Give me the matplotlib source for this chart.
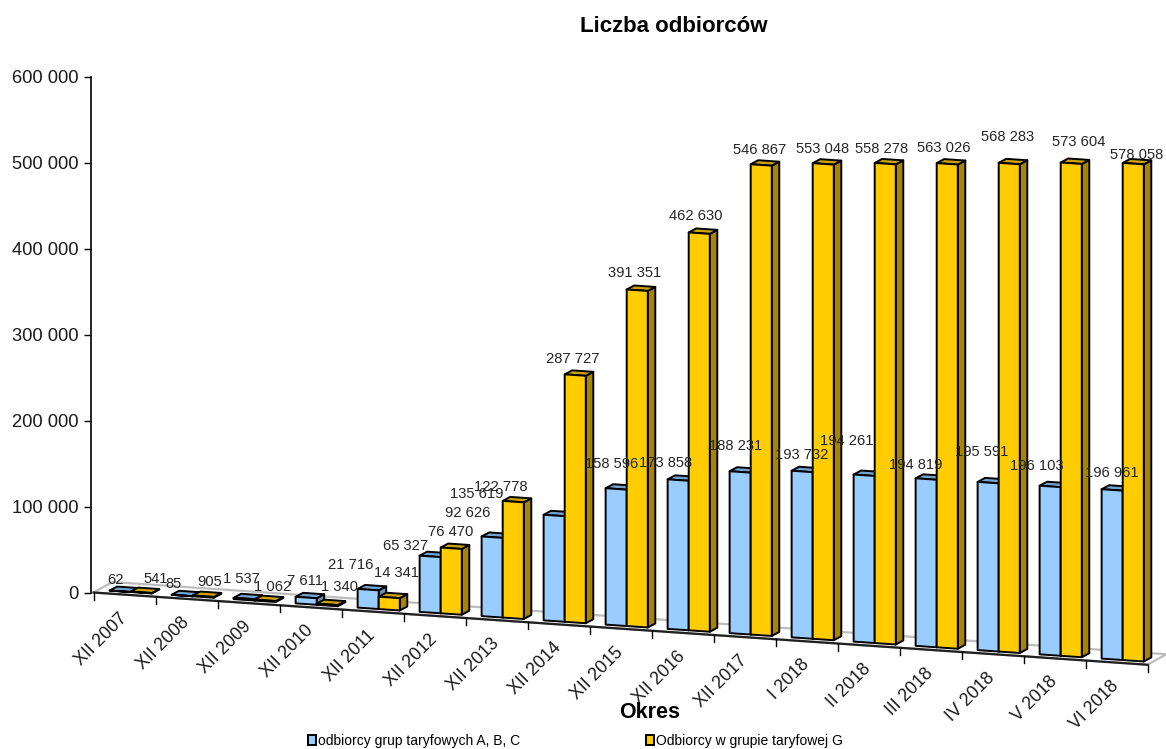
# Liczba odbiorcow - pseudo 3D column chart drawn on a sheared floor
import matplotlib
matplotlib.use('Agg')
import matplotlib.pyplot as plt
from matplotlib.patches import Patch, Polygon

plt.rcParams['font.family'] = ['Liberation Sans', 'DejaVu Sans']

categories = ['XII 2007', 'XII 2008', 'XII 2009', 'XII 2010', 'XII 2011', 'XII 2012',
              'XII 2013', 'XII 2014', 'XII 2015', 'XII 2016', 'XII 2017', 'I 2018',
              'II 2018', 'III 2018', 'IV 2018', 'V 2018', 'VI 2018']
abc_values = [62, 85, 1537, 7611, 21716, 65327, 92626, 122778, 158596, 173858,
              188231, 193732, 194261, 194819, 195591, 196103, 196961]
g_values = [541, 905, 1062, 1340, 14341, 76470, 135619, 287727, 391351, 462630,
            546867, 553048, 558278, 563026, 568283, 573604, 578058]
y_ticks = [0, 100000, 200000, 300000, 400000, 500000, 600000]

# label nudges in pixels, from the bar's top-front centre (dx, dy up)
abc_nudge = [(-5, 14), (-9, 15), (-3, 23), (-1, 20), (-17, 28), (-25, 13), (-24, 27), (-53, 31),
             (-5, 28), (-13, 20), (-5, 29), (0, 19), (-17, 37), (-10, 17), (-6, 34), (-13, 23), (0, 20)]
g_nudge = [(14, 16), (6, 17), (7, 16), (12, 20), (7, 27), (-1, 19), (-37, 11), (-2, 19),
           (-3, 20), (-3, 20), (-2, 18), (-1, 18), (-4, 18), (-3, 19), (-2, 30), (7, 24), (3, 12)]

# pixel geometry of the reference
W, H = 1166, 749
X0, CAT_W = 93.5, 62.0
Y0, PX_PER_UNIT = 592.5, 0.00086
FLOOR_DROP = 4.25           # px the front edge falls per category
DEPTH_X, DEPTH_Y = 7.5, 4.0  # bar depth
FLOOR_X, FLOOR_Y = 19.0, 10.5  # floor depth

dx_px = 1.0 / CAT_W
dy_px = 1.0 / PX_PER_UNIT


def floor_y(pos):
    """Value-axis height of the floor front edge at a category position."""
    return -FLOOR_DROP * pos * dy_px


def draw_bar(ax, left, right, value, face, side, top):
    base_l = floor_y(left) + 3.0 * dy_px
    base_r = floor_y(right) + 3.0 * dy_px
    h = value
    dx, dy = DEPTH_X * dx_px, DEPTH_Y * dy_px
    lw = 1.4
    ax.add_patch(Polygon([(right, base_r), (right + dx, base_r + dy), (right + dx, base_r + h + dy),
                          (right, base_r + h)], fc=side, ec='black', lw=lw, joinstyle='round'))
    ax.add_patch(Polygon([(left, base_l + h), (left + dx, base_l + h + dy),
                          (right + dx, base_r + h + dy), (right, base_r + h)],
                         fc=top, ec='black', lw=lw, joinstyle='round'))
    ax.add_patch(Polygon([(left, base_l), (right, base_r), (right, base_r + h), (left, base_l + h)],
                         fc=face, ec='black', lw=lw, joinstyle='round'))


def main():
    fig = plt.figure(figsize=(W / 100, H / 100), dpi=100)
    ax = fig.add_axes([0, 0, 1, 1])
    ax.set_xlim(-X0 * dx_px, (W - X0) * dx_px)
    ax.set_ylim(-(H - Y0) * dy_px, Y0 * dy_px)
    ax.patch.set_alpha(0)

    n = len(categories)

    # floor
    fx, fy = FLOOR_X * dx_px, FLOOR_Y * dy_px
    ax.add_patch(Polygon([(0, floor_y(0)), (n, floor_y(n)), (n + fx, floor_y(n) + fy), (fx, floor_y(0) + fy)],
                         fc='white', ec='#bdbdbd', lw=1.6, zorder=1))
    ax.plot([0, n], [floor_y(0), floor_y(n)], color='#202020', lw=1.6, zorder=1.5)
    for i in range(n + 1):
        ax.plot([i, i], [floor_y(i), floor_y(i) - 7 * dy_px], color='black', lw=1.0, zorder=1.5)

    # columns
    for i in range(n):
        draw_bar(ax, i + 0.26, i + 0.60, abc_values[i], '#99ccff', '#6d91b6', '#74a2cf')
        draw_bar(ax, i + 0.60, i + 0.94, g_values[i], '#ffcc00', '#a68500', '#c9a100')

    # data labels
    for i in range(n):
        for val, lo, hi, nudge in ((abc_values[i], 0.26, 0.60, abc_nudge[i]),
                                   (g_values[i], 0.60, 0.94, g_nudge[i])):
            pos = i + (lo + hi) / 2
            text = f'{val:,}'.replace(',', ' ')
            ax.text(pos + nudge[0] * dx_px, floor_y(pos) + val + nudge[1] * dy_px, text,
                    ha='center', va='center', fontsize=10.6, color='#262626', zorder=5)

    # category labels
    for i, name in enumerate(categories):
        ax.text(i + 0.5, floor_y(i + 0.5) - 21 * dy_px, name, rotation=45, rotation_mode='anchor',
                ha='right', va='center', fontsize=12.8, color='#1a1a1a')

    # value axis
    for name in ('top', 'right', 'bottom'):
        ax.spines[name].set_visible(False)
    ax.spines['left'].set_position(('data', -2.5 * dx_px))
    ax.spines['left'].set_bounds(0, 600000)
    ax.spines['left'].set_linewidth(1.2)
    ax.set_xticks([])
    ax.set_yticks(y_ticks)
    ax.set_yticklabels([f'{v:,}'.replace(',', ' ') for v in y_ticks], fontsize=13.2, color='#1a1a1a')
    ax.tick_params(axis='y', direction='out', length=5, width=1.0, pad=4)

    fig.text(674 / W, 1 - 26 / H, 'Liczba odbiorców', ha='center', va='center',
             fontsize=16, fontweight='bold')
    fig.text(650 / W, 1 - 713 / H, 'Okres', ha='center', va='center', fontsize=15.5, fontweight='bold')

    handles = [Patch(fc='#99ccff', ec='black', lw=1.4), Patch(fc='#ffcc00', ec='black', lw=1.4)]
    fig.legend(handles, ['odbiorcy grup taryfowych A, B, C', 'Odbiorcy w grupie taryfowej G'],
               ncol=2, loc='center left', bbox_to_anchor=(308 / W, 1 - 741 / H), frameon=False,
               fontsize=10, handlelength=0.6, handleheight=0.7, handletextpad=0.15,
               columnspacing=9.0, borderpad=0, borderaxespad=0)

    fig.savefig('out.png', dpi=100, facecolor='white')
    plt.close(fig)


if __name__ == "__main__":
    main()
